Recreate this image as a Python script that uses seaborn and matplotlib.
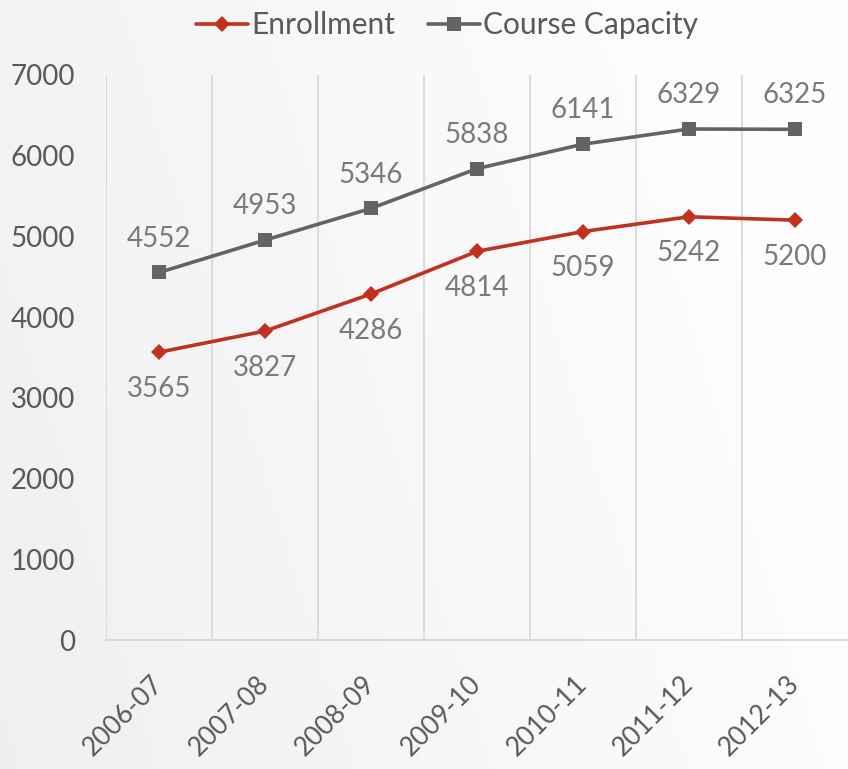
import numpy as np
import pandas as pd
import matplotlib
matplotlib.use("Agg")
import matplotlib.pyplot as plt
import seaborn as sns

years = ["2006-07", "2007-08", "2008-09", "2009-10", "2010-11", "2011-12", "2012-13"]
enrollment = [3565, 3827, 4286, 4814, 5059, 5242, 5200]
capacity = [4552, 4953, 5346, 5838, 6141, 6329, 6325]
yticks = [0, 1000, 2000, 3000, 4000, 5000, 6000, 7000]

sns.set_style("white")
plt.rcParams["font.family"] = ["Lato", "DejaVu Sans"]

fig = plt.figure(figsize=(8.48, 7.69), dpi=100)

# subtle background gradient
bg = fig.add_axes([0, 0, 1, 1], zorder=-10)
yy, xx = np.mgrid[0:1:200j, 0:1:200j]
grad = 0.94 + 0.055 * np.clip(xx * 0.9 + (1 - yy) * 0.25, 0, 1)
bg.imshow(np.dstack([grad, grad, grad]), aspect="auto", extent=[0, 1, 0, 1])
bg.axis("off")

ax = fig.add_axes([0.125, 0.1677, 0.875, 0.735])
ax.set_facecolor("none")

red = "#c0311f"
gray = "#636363"
df_e = pd.DataFrame({"year": years, "value": enrollment})
df_c = pd.DataFrame({"year": years, "value": capacity})
sns.lineplot(data=df_e, x="year", y="value", ax=ax, color=red, lw=2.6,
             marker="D", markersize=8, markeredgewidth=0, label="Enrollment", sort=False)
sns.lineplot(data=df_c, x="year", y="value", ax=ax, color=gray, lw=2.6,
             marker="s", markersize=10, markeredgewidth=0, label="Course Capacity", sort=False)

lab_col = "#7a7a7a"
for i, v in enumerate(enrollment):
    ax.annotate(f"{v}", (i, v), xytext=(0, -17), textcoords="offset points",
                ha="center", va="top", fontsize=20, color=lab_col)
for i, v in enumerate(capacity):
    ax.annotate(f"{v}", (i, v), xytext=(0, 15), textcoords="offset points",
                ha="center", va="bottom", fontsize=20, color=lab_col)

ax.set_xlim(-0.5, 6.5)
ax.set_ylim(0, 7000)
ax.set_yticks(yticks)
ax.set_yticklabels([str(t) for t in yticks], fontsize=20, color="#595959")
ax.set_xticks(range(len(years)))
ax.set_xticklabels(years, rotation=45, ha="right", va="center", rotation_mode="anchor",
                   fontsize=19, color="#595959")
ax.tick_params(axis="x", pad=29, length=0)
ax.tick_params(axis="y", pad=22, length=0)
ax.set_xticks(np.arange(-0.5, 6.5, 1), minor=True)
ax.grid(False)
ax.grid(True, axis="x", which="minor", color="#d9d9d9", lw=1.3)
ax.tick_params(which="minor", length=0)
for s in ["top", "right", "left"]:
    ax.spines[s].set_visible(False)
ax.spines["bottom"].set_color("#d9d9d9")
ax.spines["bottom"].set_linewidth(1.5)
ax.set_xlabel("")
ax.set_ylabel("")

leg = ax.legend(loc="upper center", bbox_to_anchor=(0.46, 1.16), ncol=2, frameon=False,
                fontsize=21.5, handlelength=1.75, handletextpad=0.1, columnspacing=1.1)
for t in leg.get_texts():
    t.set_color("#595959")

fig.savefig("out.png", dpi=100)
